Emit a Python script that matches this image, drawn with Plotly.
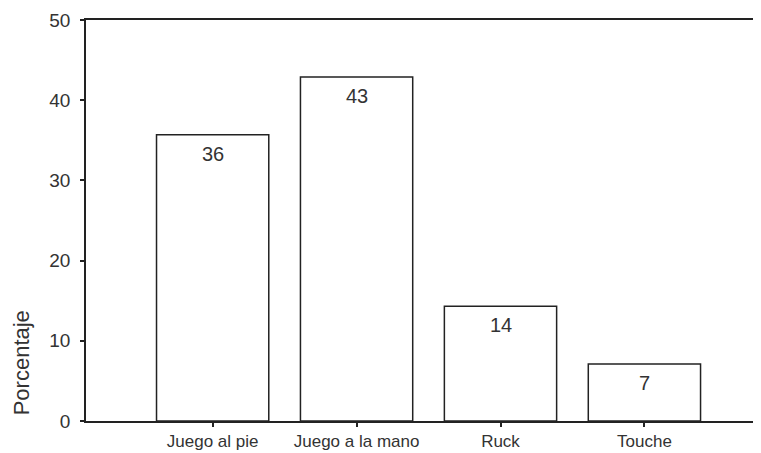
import plotly.graph_objects as go

categories = ["Juego al pie", "Juego a la mano", "Ruck", "Touche"]
values = [35.7, 42.9, 14.3, 7.1]
labels = ["36", "43", "14", "7"]
y_ticks = [0, 10, 20, 30, 40, 50]
y_title = "Porcentaje"

FONT = "Liberation Sans, Arial, sans-serif"
TEXT = "#333333"
LINE = "#222222"

fig = go.Figure()
fig.add_trace(go.Bar(
    x=categories, y=values, width=0.78,
    marker=dict(color="white", line=dict(color=LINE, width=1.5)),
    hoverinfo="skip",
))

for c, v, t in zip(categories, values, labels):
    fig.add_annotation(x=c, y=v, text=t, showarrow=False, yanchor="top",
                       yshift=-6, font=dict(family=FONT, size=20, color=TEXT))

fig.add_annotation(xref="paper", yref="paper", x=-0.095, y=0.146,
                   text=y_title, textangle=-90, showarrow=False,
                   xanchor="center", yanchor="middle",
                   font=dict(family=FONT, size=22, color=TEXT))

fig.update_layout(
    width=753, height=445,
    margin=dict(l=78, r=0, t=12, b=32),
    paper_bgcolor="white", plot_bgcolor="white",
    showlegend=False,
    font=dict(family=FONT, color=TEXT),
    xaxis=dict(
        range=[-0.88, 3.81], showline=True, linecolor=LINE, linewidth=1.5,
        mirror=True, ticks="outside", ticklen=4, tickcolor=LINE, tickwidth=2,
        showgrid=False, zeroline=False, tickfont=dict(size=17, color=TEXT),
        ticklabelstandoff=0, automargin=False,
    ),
    yaxis=dict(
        range=[0, 50], tickvals=y_ticks, showline=True, linecolor=LINE,
        linewidth=1.5, ticks="outside", ticklen=4, tickcolor=LINE, tickwidth=2,
        showgrid=False, zeroline=False, tickfont=dict(size=19, color=TEXT),
        ticklabelstandoff=6, automargin=False,
    ),
)

fig.write_html("out.html")
